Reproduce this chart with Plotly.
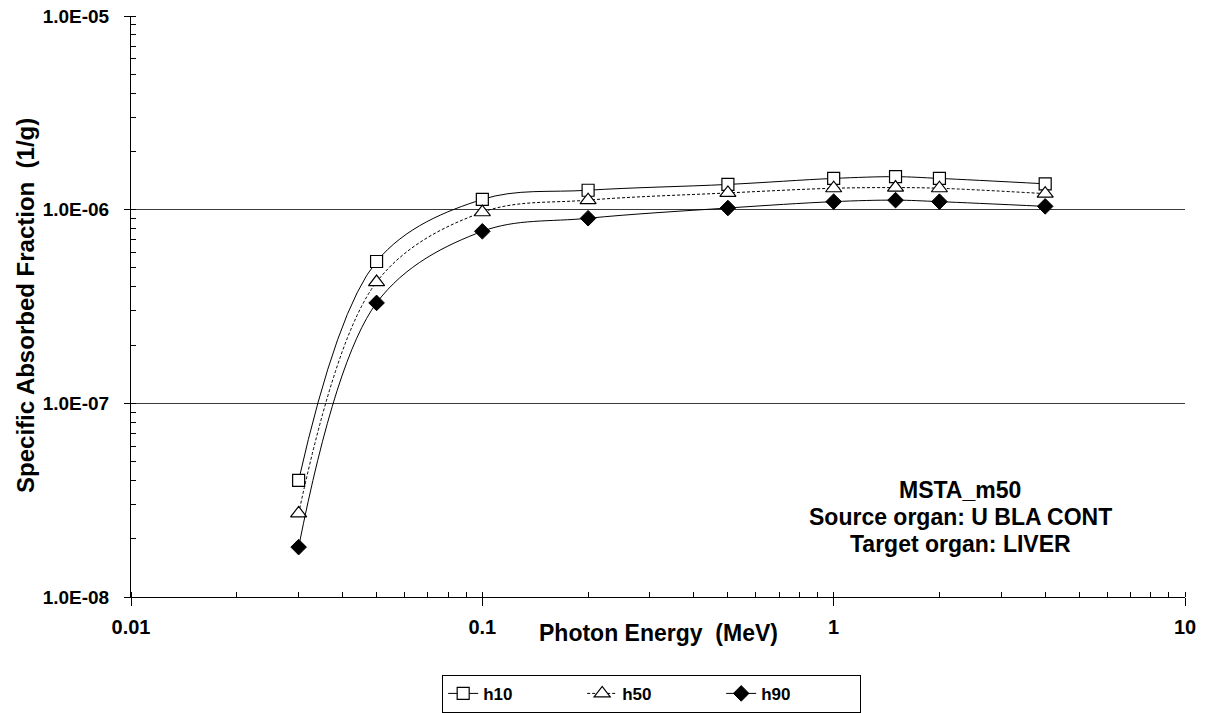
import plotly.graph_objects as go

energy = [0.03, 0.05, 0.1, 0.2, 0.5, 1.0, 1.5, 2.0, 4.0]
h10 = [4.0e-8, 5.4e-7, 1.13e-6, 1.26e-6, 1.35e-6, 1.45e-6, 1.48e-6, 1.45e-6, 1.36e-6]
h50 = [2.7e-8, 4.23e-7, 9.7e-7, 1.12e-6, 1.22e-6, 1.29e-6, 1.30e-6, 1.29e-6, 1.21e-6]
h90 = [1.81e-8, 3.30e-7, 7.73e-7, 9.03e-7, 1.02e-6, 1.10e-6, 1.12e-6, 1.10e-6, 1.04e-6]

y_tickvals = [1e-8, 1e-7, 1e-6, 1e-5]
y_ticktext = ["1.0E-08", "1.0E-07", "1.0E-06", "1.0E-05"]
x_tickvals = [0.01, 0.1, 1, 10]
x_ticktext = ["0.01", "0.1", "1", "10"]

x_title = "Photon Energy  (MeV)"
y_title = "Specific Absorbed Fraction  (1/g)"
info_lines = ["MSTA_m50", "Source organ: U BLA CONT", "Target organ: LIVER"]

FONT = "Arial, 'Liberation Sans', sans-serif"

fig = go.Figure()
fig.add_trace(go.Scatter(
    x=energy, y=h10, name="h10", mode="lines+markers",
    line=dict(color="black", width=1, shape="spline", smoothing=1),
    marker=dict(symbol="square", size=12, color="white", line=dict(color="black", width=1.2)),
))
fig.add_trace(go.Scatter(
    x=energy, y=h50, name="h50", mode="lines+markers",
    line=dict(color="black", width=1, shape="spline", smoothing=1, dash="3px,2px"),
    marker=dict(symbol="triangle-up", size=14, color="white", line=dict(color="black", width=1.2)),
))
fig.add_trace(go.Scatter(
    x=energy, y=h90, name="h90", mode="lines+markers",
    line=dict(color="black", width=1, shape="spline", smoothing=1),
    marker=dict(symbol="diamond", size=12, color="black", line=dict(color="black", width=1)),
))

fig.update_xaxes(
    type="log", range=[-2, 1],
    tickvals=x_tickvals, ticktext=x_ticktext,
    ticks="outside", ticklen=8, tickcolor="black", tickwidth=1,
    ticklabelstandoff=4,
    showline=True, linecolor="black", linewidth=1,
    showgrid=False, zeroline=False,
    minor=dict(dtick="D1", ticks="inside", ticklen=5, tickcolor="black", showgrid=False),
    tickfont=dict(family=FONT, size=20, color="black", weight="bold"),
)
fig.update_yaxes(
    type="log", range=[-8, -5],
    tickvals=y_tickvals, ticktext=y_ticktext,
    ticks="outside", ticklen=6, tickcolor="black", tickwidth=1,
    ticklabelstandoff=11,
    showline=True, linecolor="black", linewidth=1,
    showgrid=True, gridcolor="#3a3a3a", gridwidth=1, zeroline=False,
    minor=dict(dtick="D1", ticks="inside", ticklen=5, tickcolor="black", showgrid=False),
    tickfont=dict(family=FONT, size=19, color="black", weight="bold"),
)

annotations = [
    dict(text=x_title, xref="paper", yref="paper", x=0.5, y=-0.062,
         xanchor="center", yanchor="middle", showarrow=False,
         font=dict(family=FONT, size=23, color="black", weight="bold")),
    dict(text=y_title, xref="paper", yref="paper", x=-0.1, y=0.502,
         xanchor="center", yanchor="middle", showarrow=False, textangle=-90,
         font=dict(family=FONT, size=24, color="black", weight="bold")),
]
info_y = [0.184, 0.138, 0.091]
for txt, yy in zip(info_lines, info_y):
    annotations.append(dict(text=txt, xref="paper", yref="paper", x=0.787, y=yy,
                            xanchor="center", yanchor="middle", showarrow=False,
                            font=dict(family=FONT, size=23, color="black", weight="bold")))

fig.update_layout(
    width=1207, height=713,
    margin=dict(l=131, r=22, t=16, b=116, autoexpand=False),
    paper_bgcolor="white", plot_bgcolor="white",
    showlegend=True,
    legend=dict(
        orientation="h", x=0.494, xanchor="center", y=-0.134, yanchor="top",
        bordercolor="black", borderwidth=1, bgcolor="white",
        entrywidth=94, entrywidthmode="pixels",
        tracegroupgap=0,
        font=dict(family=FONT, size=17, color="black", weight="bold"),
        itemclick=False,
    ),
    annotations=annotations,
)

fig.write_html("out.html", config={"displayModeBar": False},
               post_script="document.body.style.margin='0';document.body.style.padding='0';")
